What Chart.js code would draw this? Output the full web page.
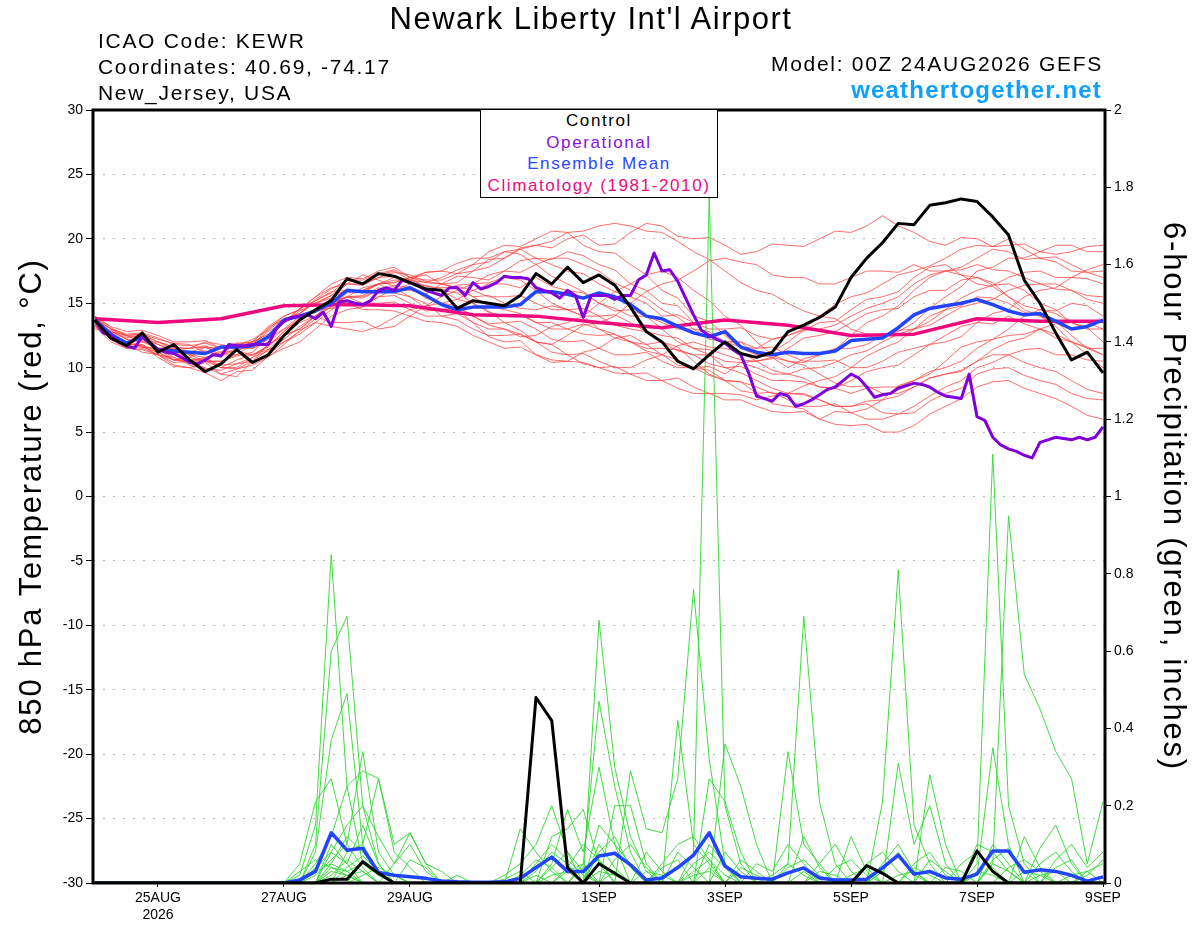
<!DOCTYPE html>
<html>
<head>
<meta charset="utf-8">
<title>Newark Liberty Int'l Airport - GEFS</title>
<script src="https://cdn.jsdelivr.net/npm/chart.js@4.4.1/dist/chart.umd.min.js"></script>
<style>
    html, body { margin: 0; padding: 0; background: #fff; }
    #wrap { position: relative; width: 1200px; height: 927px; overflow: hidden; font-family: "Liberation Sans", Arial, sans-serif; }
    #chart { position: absolute; left: 0; top: 0; }
    .t { position: absolute; white-space: nowrap; color: #000; line-height: 1; }
    .title { left: 0; width: 1182px; text-align: center; top: 3px; font-size: 31px; letter-spacing: 1.5px; }
    .info { left: 98px; font-size: 21px; letter-spacing: 1.7px; }
    .model { right: 97px; top: 53px; font-size: 21px; letter-spacing: 1.7px; }
    .site { right: 98px; top: 78px; font-size: 24px; font-weight: bold; letter-spacing: 1.2px; color: #0ea0ff; }
    #legendBox { position: absolute; left: 480px; top: 109px; width: 236px; height: 87px; border: 1.5px solid #000; background: #fff; z-index: 2; }
    #legendBox div { height: 21.5px; line-height: 21.5px; font-size: 17px; letter-spacing: 1.6px; text-align: center; white-space: nowrap; }
</style>
</head>
<body>
<div id="wrap">
    <canvas id="chart" width="1200" height="927"></canvas>
    <div class="t title">Newark Liberty Int'l Airport</div>
    <div class="t info" style="top:30px">ICAO Code: KEWR</div>
    <div class="t info" style="top:56px">Coordinates: 40.69, -74.17</div>
    <div class="t info" style="top:82px">New_Jersey, USA</div>
    <div class="t model">Model: 00Z 24AUG2026 GEFS</div>
    <div class="t site">weathertogether.net</div>
    <div id="legendBox">
        <div style="color:#000">Control</div>
        <div style="color:#8a10e0">Operational</div>
        <div style="color:#2a48ff">Ensemble Mean</div>
        <div style="color:#ee0a82">Climatology (1981-2010)</div>
    </div>
</div>
<script>
// x axis: hours after 00Z 24AUG2026
const tickHours = [24, 72, 120, 192, 240, 288, 336, 384];
const tickLabels = [['25AUG', '2026'], '27AUG', '29AUG', '1SEP', '3SEP', '5SEP', '7SEP', '9SEP'];

// 850 hPa temperature, 6-hourly (control and ensemble mean)
const controlTemp = [13.7,12.3,11.7,12.7,11.2, 11.8,10.6,9.7,10.3,11.4, 10.4,11.0,12.5,13.7,14.5, 15.2,16.9,16.5,17.3,17.1,
    16.6,16.1,16.0,14.6,15.2, 15.0,14.8,15.6,17.3,16.5, 17.8,16.6,17.2,16.4,14.7, 12.8,12.0,10.5,9.9,11.0,
    12.0,11.1,10.8,11.2,12.8, 13.3,13.9,14.7,17.0,18.5, 19.7,21.2,21.1,22.6,22.8, 23.1,22.9,21.7,20.3,16.8, 15.0,12.7,10.6,11.2,9.6];
const meanTemp = [13.7,12.6,11.9,12.4,11.4, 11.3,11.2,11.1,11.6,11.6, 11.7,12.4,13.7,14.0,14.4, 15.0,16.0,15.9,15.9,15.9,
    16.2,15.6,14.9,14.5,14.7, 14.7,14.7,14.9,15.9,15.9, 15.7,15.4,15.8,15.5,14.9, 14.0,13.8,13.2,12.7,12.4,
    12.8,11.6,11.2,11.0,11.2, 11.1,11.1,11.3,12.1,12.2, 12.3,13.1,14.1,14.6,14.8, 15.0,15.3,14.9,14.4,14.1, 14.2,13.6,13.0,13.2,13.7];

// operational run, 3-hourly
const operTemp = [13.7,12.7,12.5,12.0,11.7, 11.5,12.4,11.9,11.4,11.2, 11.1,10.8,10.4,10.3,10.6, 11.0,10.9,11.8,11.7,11.7,
    11.8,11.8,11.8,13.0,13.6, 13.9,14.0,14.1,13.8,14.3, 13.2,15.1,15.2,15.0,14.9, 15.2,16.0,16.2,16.0,16.8,
    16.6,16.4,16.0,15.8,15.6, 16.2,16.2,15.6,16.6,16.1, 16.3,16.6,17.1,17.0,17.0, 16.9,16.2,16.0,15.8,15.4,
    16.0,15.6,13.9,15.6,15.6, 15.6,15.3,15.6,15.6,16.8, 17.2,18.9,17.5,17.6,16.7, 15.4,14.1,12.9,12.5,12.2,
    11.9,11.4,11.0,9.6,7.8, 7.6,7.4,8.0,7.8,7.0, 7.2,7.5,7.9,8.3,8.5, 9.0,9.5,9.2,8.5,7.7,
    7.9,8.0,8.4,8.6,8.8, 8.7,8.5,8.1,7.8,7.7, 7.6,9.5,6.2,5.9,4.6, 4.0,3.7,3.5,3.2,3.0,
    4.2,4.4,4.6,4.5,4.4, 4.6,4.4,4.6,5.4];

// climatology, daily
const climoTemp = [13.8,13.5,13.8,14.8,14.9,14.8,14.1,14.0,13.5,13.1,13.7,13.3,12.5,12.6,13.8,13.6,13.6];

// ensemble members, 6-hourly
const memberTemps = [
    [13.5,12.4,12.0,12.3,11.5,10.6,10.8,11.6,11.0,11.9,11.5,12.2,13.5,14.6,15.0,15.4,16.5,17.2,16.8,16.3,17.0,17.2,16.5,16.6,17.5,18.4,18.5,19.3,19.5,19.3,20.0,20.3,19.5,19.6,20.5,21.2,21.0,20.2,20.0,20.1,19.5,18.8,19.0,19.6,19.5,19.4,20.0,20.6,20.5,21.0,21.8,21.0,20.5,19.8,19.5,20.1,20.0,19.4,19.5,19.6,19.0,18.8,19.0,19.4,19.5],
    [13.8,13.0,12.5,12.6,12.0,11.4,11.5,12.0,11.8,11.5,12.0,13.1,13.8,14.2,15.2,15.9,16.0,15.8,16.5,17.0,16.8,17.4,17.5,17.3,18.0,19.0,19.5,19.4,20.0,20.6,20.5,19.5,19.0,18.9,18.0,17.2,16.0,15.4,14.0,13.6,12.5,11.5,11.0,10.8,10.0,10.7,11.0,11.4,12.5,13.5,14.0,14.8,16.0,17.0,17.5,17.8,18.5,19.2,19.0,18.4,18.5,18.6,18.0,17.4,17.5],
    [13.2,12.0,11.5,11.8,10.8,10.1,10.0,10.4,9.5,9.3,10.5,11.8,12.5,13.0,14.0,15.1,15.5,15.4,16.0,16.2,15.5,14.6,14.5,14.5,13.5,12.4,12.0,12.1,11.0,10.4,10.5,11.2,11.5,12.3,12.5,11.8,12.0,11.6,10.5,9.5,9.0,8.9,8.0,7.2,7.0,6.8,6.0,6.6,6.5,6.8,7.5,8.6,9.0,9.5,10.5,11.6,12.0,12.2,13.0,14.0,14.5,14.4,15.0,14.8,14.0],
    [14.0,13.2,12.8,12.9,12.5,12.0,12.0,12.1,11.5,11.9,12.0,13.2,14.0,14.5,15.5,16.5,17.0,16.9,17.5,17.8,17.0,16.2,16.0,15.8,15.0,14.3,14.0,14.1,13.5,13.0,13.0,13.4,13.0,12.3,12.0,11.8,11.0,10.2,10.0,10.1,9.5,10.4,10.5,10.7,11.5,12.3,12.5,12.8,13.5,14.2,14.5,14.6,15.5,16.0,16.0,16.8,17.0,16.4,16.5,16.0,15.0,14.5,13.5,13.1,12.0],
    [13.5,12.2,11.8,11.7,11.0,10.2,10.0,9.6,9.0,9.7,9.8,10.9,11.5,12.0,13.0,14.0,14.5,14.7,15.5,16.1,16.0,15.7,16.5,17.1,17.0,16.8,17.5,18.3,18.5,18.4,19.0,18.7,18.0,17.6,16.5,16.0,15.0,14.8,13.5,12.4,12.0,12.0,11.0,11.2,12.0,12.9,13.5,13.6,14.5,15.3,15.5,15.9,17.0,17.8,18.0,17.2,17.0,16.6,15.5,14.5,14.0,13.6,12.5,11.5,11.0],
    [13.0,12.9,12.2,11.6,11.5,11.6,11.0,10.5,10.5,11.0,11.0,11.4,12.5,13.5,14.0,13.5,13.5,13.6,13.0,13.2,14.0,14.8,15.0,15.3,16.0,16.5,16.5,16.2,17.0,16.3,16.0,15.8,15.0,14.4,14.5,14.0,13.0,12.0,11.5,11.0,10.0,10.1,9.5,9.0,9.0,8.9,8.5,8.4,9.0,9.7,10.0,10.2,11.0,11.8,12.0,12.4,13.5,14.2,14.5,15.5,16.0,16.2,17.0,17.6,18.0],
    [13.6,12.6,12.0,12.2,11.8,11.4,11.5,11.6,11.0,11.5,11.5,12.0,13.0,14.0,14.5,15.4,16.0,16.0,16.5,15.8,15.5,15.0,14.0,13.7,13.0,12.5,12.5,12.6,12.0,11.8,12.5,13.3,13.5,14.0,15.0,15.9,16.5,16.8,17.5,18.3,18.5,18.2,18.0,17.2,17.0,17.0,16.5,16.5,17.0,17.5,17.5,17.4,18.0,17.5,17.5,17.2,16.5,16.3,15.5,14.8,14.5,14.2,13.5,13.5,13.0],
    [13.4,12.2,11.5,11.4,11.0,10.4,10.5,10.6,10.0,9.9,10.5,11.4,12.0,12.6,13.5,14.5,15.0,14.8,15.5,15.6,15.0,14.4,14.5,14.7,14.0,13.4,13.5,13.6,13.0,12.2,12.0,12.1,11.5,11.0,11.0,11.2,10.5,10.0,10.0,9.8,9.0,8.2,8.0,8.1,7.5,7.0,7.0,7.2,6.5,6.0,6.0,6.4,6.5,7.4,8.0,8.4,9.5,9.9,10.0,9.4,9.0,8.7,8.0,7.6,7.5],
    [13.8,12.8,12.3,12.5,11.8,11.3,11.2,11.6,11.5,11.5,12.0,12.6,13.5,14.4,15.0,15.6,16.5,16.4,17.0,17.1,16.5,16.0,16.0,16.4,16.5,17.2,17.5,17.4,18.0,18.5,18.5,18.0,17.5,16.6,16.0,15.4,14.5,13.9,13.0,12.8,12.0,11.6,11.5,11.6,11.0,10.5,10.5,10.6,10.0,10.0,10.5,11.2,11.5,11.8,12.5,13.2,13.5,13.4,14.0,13.4,13.0,12.6,12.0,11.5,11.5],
    [13.5,12.8,12.5,12.0,12.0,11.6,11.0,11.3,11.0,11.0,11.8,13.0,14.0,14.5,15.5,16.2,16.5,16.5,17.0,17.4,17.2,16.7,16.5,16.2,15.5,15.6,15.0,14.6,14.5,14.8,14.5,14.0,14.0,14.1,13.5,12.8,12.5,12.3,11.5,11.4,11.0,10.6,10.5,10.8,10.5,10.4,11.0,11.5,11.5,11.8,12.5,12.8,13.5,14.6,15.5,16.3,17.5,17.8,18.5,18.5,19.0,19.5,19.5,19.0,19.0],
    [13.3,12.3,11.8,11.8,11.2,10.6,10.5,10.8,10.0,10.0,10.8,11.8,12.5,13.0,14.0,14.9,15.5,15.5,16.0,16.4,16.2,15.4,15.0,14.8,14.0,13.3,13.0,12.4,12.5,13.2,13.5,14.0,15.0,15.9,16.5,17.2,17.5,17.0,16.0,15.2,14.0,13.3,12.0,11.0,10.5,10.2,9.5,8.8,8.5,8.6,8.0,8.0,8.5,9.2,9.5,9.7,10.5,11.0,11.0,10.4,10.0,9.7,9.0,8.3,8.0],
    [14.0,13.1,12.5,12.6,12.2,11.9,11.8,11.2,11.0,11.3,11.0,11.6,12.8,13.8,14.5,14.8,15.5,15.0,15.0,15.1,14.5,14.0,14.0,14.2,13.5,13.0,13.0,12.6,12.0,11.8,11.0,10.3,10.0,10.1,9.5,9.0,9.0,9.2,8.5,8.0,8.0,7.9,7.5,7.8,8.0,8.6,9.0,9.3,10.0,10.9,11.5,12.0,13.0,14.0,14.5,14.8,15.5,15.4,15.0,14.3,14.0,13.2,12.0,11.0,10.0],
    [13.6,12.7,12.0,11.6,11.5,11.5,11.0,10.8,11.2,11.8,12.0,12.4,13.5,14.6,15.2,15.8,16.8,16.6,17.2,17.5,16.8,16.6,17.0,17.6,18.0,18.2,19.0,19.2,18.5,18.0,17.5,17.3,16.5,15.9,15.5,15.0,14.0,14.1,13.5,13.0,13.0,13.1,12.5,12.2,12.5,12.9,13.0,13.3,14.0,14.6,15.0,15.5,16.5,17.2,17.5,17.6,18.0,17.6,17.5,17.0,16.5,16.5,16.0,15.3,15.0],
    [13.2,12.3,11.8,11.2,11.0,10.8,10.2,9.9,9.8,10.3,10.5,11.0,12.0,12.8,13.8,14.8,15.5,15.6,16.2,16.0,16.5,16.4,16.0,15.3,15.0,14.4,13.5,12.9,12.0,11.2,11.0,11.1,10.5,10.0,10.0,10.6,11.0,11.7,12.0,11.6,11.5,11.2,10.5,9.8,9.5,9.2,8.5,8.4,8.0,8.4,8.5,8.5,9.0,9.7,10.0,10.5,11.5,12.2,12.5,12.6,13.0,12.3,12.0,11.6,11.0],
    [13.9,13.0,12.6,12.7,12.3,11.8,11.7,11.9,11.5,11.7,12.2,12.9,13.8,14.2,15.0,15.6,16.0,15.9,16.5,16.8,16.8,16.3,16.2,16.3,16.0,15.5,15.5,15.6,15.0,14.5,14.5,14.6,14.0,13.3,13.0,12.8,12.0,11.3,11.0,11.0,10.5,10.4,10.0,9.5,9.5,9.9,10.0,10.4,11.0,11.3,12.0,12.6,13.0,13.3,14.0,14.7,15.0,15.3,16.0,16.4,16.5,16.1,16.0,15.6,15.5],
    [13.4,12.4,11.6,11.5,11.0,10.6,10.6,10.7,10.2,10.3,10.8,11.3,12.2,13.2,14.0,14.7,15.8,16.0,16.5,16.6,17.0,17.4,17.5,18.1,18.5,18.5,19.0,18.8,18.0,17.1,16.5,15.9,15.0,14.6,14.0,14.0,13.5,13.0,13.0,12.2,12.0,12.0,11.5,12.2,12.5,13.0,14.0,14.9,15.5,15.8,16.5,17.2,17.5,17.9,18.5,19.2,19.5,19.4,20.0,19.2,18.5,18.2,17.5,17.4,17.0],
    [13.7,12.8,12.2,12.0,11.5,11.2,10.8,10.5,10.5,10.9,11.2,12.3,13.0,13.6,14.5,14.6,15.0,14.5,14.5,14.4,14.0,13.6,13.5,13.2,12.5,12.0,11.5,11.6,11.0,10.6,10.5,10.4,10.0,9.6,9.5,9.6,9.0,8.4,8.0,8.0,7.5,7.5,7.0,6.6,6.5,6.6,6.0,5.6,5.5,5.6,5.0,5.0,5.5,6.4,7.0,7.6,8.5,8.9,9.0,8.4,8.0,7.6,7.0,6.3,6.0],
    [13.5,12.5,12.0,12.1,11.5,10.8,10.5,10.5,10.0,10.6,11.0,11.7,12.8,13.9,14.5,15.0,15.5,16.2,16.5,16.6,17.0,16.6,16.5,16.2,15.5,14.8,14.5,14.2,13.5,13.5,13.0,12.6,12.5,12.6,12.0,11.5,11.5,11.4,11.0,10.3,10.0,9.6,9.0,8.4,8.0,8.0,7.5,7.0,7.0,7.4,7.5,7.8,8.5,9.2,9.5,9.8,10.5,11.4,12.0,12.3,13.0,13.4,13.5,13.0,13.0],
    [13.8,13.0,12.4,12.5,12.0,11.6,11.5,11.7,11.2,11.3,11.8,12.8,13.5,14.2,15.3,16.1,16.8,16.8,17.3,17.6,17.0,16.8,16.8,17.3,17.5,17.8,18.5,19.2,19.5,19.8,20.5,20.6,21.0,21.2,21.0,20.6,20.5,19.8,19.0,18.4,17.5,16.6,16.0,15.7,15.0,14.4,14.0,13.8,13.0,12.6,12.5,12.9,13.0,13.6,14.5,15.4,16.0,16.4,17.0,17.4,17.5,17.0,17.0,16.9,16.5],
    [13.3,12.2,11.7,11.6,11.2,10.6,10.4,10.0,9.5,9.9,10.2,10.8,11.8,12.9,13.5,13.2,13.0,12.8,13.2,13.9,14.5,14.8,15.5,16.0,16.5,16.6,17.0,16.8,16.0,15.0,14.5,14.0,13.0,12.6,12.0,11.3,11.0,10.6,10.0,9.4,9.0,8.9,8.5,8.0,8.0,7.9,7.5,7.0,7.0,7.2,6.5,6.4,7.0,7.8,8.5,9.0,10.0,10.4,11.0,11.4,11.5,11.0,11.0,10.6,10.5]
];

// 6-hour precipitation (inches), 6-hourly
const controlPrecip = [0,0,0,0,0, 0,0,0,0,0, 0,0,0,0,0, .01,.01,.055,.025,0, 0,0,0,0,0, 0,0,0,.48,.42, .04,0,.05,.025,0,
    0,0,0,0,0, 0,0,0,0,0, 0,0,0,0,.045, .025,0,0,0,0, 0,.083,.03,0,0, 0,0,0,0,0];
const meanPrecip = [0,0,0,0,0, 0,0,0,0,0, 0,0,0,.008,.03, .13,.085,.09,.027,.02, .016,.012,.005,.003,.002, .002,.003,.012,.04,.067,
    .03,.03,.07,.077,.047, .008,.013,.04,.072,.13, .044,.016,.012,.01,.026, .039,.013,.008,.008,.01,
    .039,.072,.023,.03,.013, .01,.023,.083,.083,.028, .034,.03,.02,.005,.016];
const memberPrecips = [
    [0,0,0,0,0, 0,0,0,0,0, 0,0,0,.02,.15, .85,.25,.05,.02,0, 0,0,0,0,0, 0,0,0,.03,.08, .05,0,.10,.04,0, 0,0,0,.08,1.78, .20,.05,0,0,0, 0,0,0,0,0, .03,.08,.02,0,0, 0,0,.10,.05,0, 0,0,0,0,0],
    [0,0,0,0,0, 0,0,0,0,0, 0,0,0,0,.10, .60,.69,.20,.05,0, 0,0,0,0,0, 0,.02,.05,.10,.20, .08,0,.68,.30,.12, .03,0,0,0,0, 0,0,0,0,.05, .69,.21,.05,0,0, 0,0,0,0,0, 0,.05,1.11,.20,.05, 0,0,0,0,0],
    [0,0,0,0,0, 0,0,0,0,0, 0,0,0,0,.08, .37,.49,.10,.02,0, 0,0,0,0,0, 0,0,0,0,0, 0,.05,.47,.25,.08, 0,0,.42,.10,.05, 0,0,0,0,0, 0,0,0,0,0, .21,.81,.15,.05,0, 0,0,.05,.95,.54, .45,.34,.27,.05,.21],
    [0,0,0,0,0, 0,0,0,0,0, 0,0,0,.05,.21, .27,.10,.34,.08,.02, 0,0,0,0,0, 0,0,0,0,.05, .19,.08,.30,.10,0, 0,0,0,0,0, .36,.25,.10,0,0, 0,0,0,0,0, 0,0,0,.28,.10, 0,0,0,0,0, .09,.15,.05,0,0],
    [0,0,0,0,0, 0,0,0,0,0, 0,0,0,0,.05, .12,.25,.29,.27,.10, .13,.05,.03,0,0, 0,0,0,0,0, 0,0,0,0,.29, .14,.13,.27,.76,.32, .05,0,0,0,0, 0,0,0,0,0, 0,0,0,0,0, 0,.02,.35,.10,0, 0,0,0,0,0],
    [0,0,0,0,0, 0,0,0,0,0, 0,0,0,0,0, .08,.15,.20,.12,.05, .10,.03,0,0,0, 0,0,.14,.08,.03, 0,0,0,.20,.20, .05,0,0,0,0, 0,0,0,0,.34, .10,.05,0,0,0, 0,.31,.10,.20,.05, 0,0,0,0,0, 0,0,0,0,0],
    [0,0,0,0,0, 0,0,0,0,0, 0,0,0,0,.03, .05,.12,.08,.03,0, 0,0,0,0,0, 0,0,0,0,.12, .14,.19,.05,0,0, 0,0,0,0,.27, .21,.08,0,0,0, 0,0,0,.12,.03, 0,0,0,0,0, 0,.10,.08,.03,0, 0,0,0,0,0],
    [0,0,0,0,0, 0,0,0,0,0, 0,0,0,0,0, .10,.05,.15,.05,0, 0,0,0,0,0, 0,0,0,.05,.10, .06,.02,0,0,0, 0,.05,.10,.12,.06, 0,0,0,0,0, .12,.04,0,0,0, 0,0,0,0,0, 0,0,0,0,0, 0,.06,.10,.04,.08],
    [0,0,0,0,0, 0,0,0,0,0, 0,0,0,0,0, 0,.08,.10,.27,.08, .04,0,0,0,0, 0,0,0,0,0, 0,0,.15,.10,.05, 0,0,0,0,0, 0,0,.05,.03,.10, .05,0,0,0,0, 0,0,.05,.08,.02, 0,0,0,0,.12, .04,0,0,0,0],
    [0,0,0,0,0, 0,0,0,0,0, 0,0,0,.03,.06, .04,.02,0,0,0, .06,.04,0,0,0, 0,0,0,0,0, .04,.10,.06,0,0, 0,0,0,.05,.08, .04,0,0,0,0, 0,0,.04,.06,.02, 0,0,0,0,0, 0,0,.06,.09,.03, 0,0,0,0,0],
    [0,0,0,0,0, 0,0,0,0,0, 0,0,0,0,0, .02,.06,.03,0,.05, .13,.05,0,0,0, 0,0,.02,.06,.04, 0,0,0,0,0, .08,.03,0,0,0, 0,.06,.03,0,0, 0,0,0,0,0, .05,.10,.03,0,0, 0,0,0,0,0, .05,.08,.03,0,0],
    [0,0,0,0,0, 0,0,0,0,0, 0,0,0,0,.02, .06,.10,.04,0,0, 0,0,0,0,0, 0,0,0,0,0, 0,0,.08,.12,.04, 0,0,0,0,.10, .05,0,0,0,0, 0,.05,.10,.03,0, 0,0,0,0,0, .05,.08,.04,0,0, 0,0,0,.02,.06],
    [0,0,0,0,0, 0,0,0,0,0, 0,0,0,0,0, 0,0,.06,.03,.02, 0,0,0,.02,0, 0,0,0,0,.04, .08,.03,0,0,0, 0,0,.08,.04,0, 0,0,0,0,.04, .06,.02,0,0,0, 0,0,0,.06,.03, 0,0,0,.04,.06, .03,0,0,0,0],
    [0,0,0,0,0, 0,0,0,0,0, 0,0,0,0,0, .04,.03,.05,.02,0, 0,0,0,0,0, 0,.01,.03,0,0, 0,0,0,.06,.10, .04,0,0,0,0, .08,.03,0,0,0, 0,0,0,0,.05, .08,.03,0,0,0, 0,0,0,0,0, 0,.04,.06,0,0],
    [0,0,0,0,0, 0,0,0,0,0, 0,0,0,0,.04, .08,.05,0,0,0, 0,0,0,0,0, 0,0,0,0,0, 0,.04,.06,.02,0, 0,.04,.06,0,0, 0,0,0,.02,.05, .02,0,0,0,0, 0,0,0,0,.04, .03,0,0,0,0, 0,0,0,.03,.05],
    [0,0,0,0,0, 0,0,0,0,0, 0,0,0,0,0, 0,.04,.07,.03,0, 0,0,0,0,0, 0,0,0,0,0, .03,.05,0,0,0, 0,0,0,.03,.06, .02,0,0,0,0, 0,.03,.02,0,0, 0,0,.04,.02,0, 0,0,.05,.03,0, 0,0,0,0,0],
    [0,0,0,0,0, 0,0,0,0,0, 0,0,0,0,0, .03,.02,0,0,0, 0,0,0,0,0, 0,0,0,0,.02, .03,0,0,0,0, 0,0,0,0,0, 0,.04,.02,0,0, 0,0,0,0,0, .03,0,0,0,0, 0,0,0,0,0, .02,.03,0,0,0],
    [0,0,0,0,0, 0,0,0,0,0, 0,0,0,0,0, 0,0,.02,.04,.02, 0,0,0,0,0, 0,0,0,0,0, 0,0,.03,.02,0, 0,0,0,0,.04, 0,0,0,0,0, .03,0,0,0,0, 0,0,0,0,0, 0,.03,.02,0,0, 0,0,0,0,0],
    [0,0,0,0,0, 0,0,0,0,0, 0,0,0,0,0, .05,.03,0,0,0, 0,0,0,0,0, 0,0,0,.02,0, 0,0,0,0,0, .03,.02,0,0,0, 0,0,0,0,0, 0,0,0,.02,.04, 0,0,0,0,0, 0,0,0,0,.03, .02,0,0,0,0],
    [0,0,0,0,0, 0,0,0,0,0, 0,0,0,0,0, 0,.02,.03,0,0, 0,0,0,0,0, 0,0,0,0,0, 0,0,0,.03,0, 0,0,0,.02,.03, 0,0,0,0,0, 0,0,0,0,0, 0,.02,.03,0,0, 0,0,0,0,0, 0,0,.02,.03,0]
];

Chart.defaults.font.family = '"Liberation Sans", Arial, sans-serif';
Chart.defaults.color = '#000';

function points(values, stepHours) {
    return values.map((v, i) => ({ x: i * stepHours, y: v }));
}

const datasets = [];
memberTemps.forEach(vals => datasets.push({
    data: points(vals, 6), yAxisID: 'y', borderColor: 'rgba(255,60,60,0.75)', borderWidth: 1, order: 60
}));
memberPrecips.forEach(vals => datasets.push({
    data: points(vals, 6), yAxisID: 'y2', borderColor: 'rgba(45,215,45,0.9)', borderWidth: 1, order: 50
}));
datasets.push({ label: 'Climatology', data: points(climoTemp, 24), yAxisID: 'y', borderColor: '#f0087f', borderWidth: 3.5, order: 40 });
datasets.push({ label: 'Ensemble Mean precip', data: points(meanPrecip, 6), yAxisID: 'y2', borderColor: '#2244ff', borderWidth: 3.5, order: 31 });
datasets.push({ label: 'Ensemble Mean', data: points(meanTemp, 6), yAxisID: 'y', borderColor: '#2244ff', borderWidth: 3.5, order: 30 });
datasets.push({ label: 'Operational', data: points(operTemp, 3), yAxisID: 'y', borderColor: '#8000dc', borderWidth: 3, order: 20 });
datasets.push({ label: 'Control precip', data: points(controlPrecip, 6), yAxisID: 'y2', borderColor: '#000', borderWidth: 3, order: 11 });
datasets.push({ label: 'Control', data: points(controlTemp, 6), yAxisID: 'y', borderColor: '#000', borderWidth: 3, order: 10 });

// axis titles are drawn with the grid layer (before the datasets): space their letters out,
// then go back to normal spacing for the lines and the tick labels
const spacing = {
    id: 'spacing',
    beforeDraw(chart) { chart.ctx.letterSpacing = '1.8px'; },
    beforeDatasetsDraw(chart) { chart.ctx.letterSpacing = '0px'; }
};

// thick frame round the plot area
const frame = {
    id: 'frame',
    afterDraw(chart) {
        const { ctx, chartArea: a } = chart;
        ctx.save();
        ctx.lineWidth = 3;
        ctx.strokeStyle = '#000';
        ctx.strokeRect(a.left, a.top, a.right - a.left, a.bottom - a.top);
        ctx.restore();
    }
};

new Chart(document.getElementById('chart').getContext('2d'), {
    type: 'line',
    data: { datasets: datasets },
    plugins: [spacing, frame],
    options: {
        responsive: false,
        animation: false,
        elements: { point: { radius: 0 }, line: { tension: 0, borderJoinStyle: 'round' } },
        layout: { padding: { top: 110, left: 0, right: 0, bottom: 0 } },
        plugins: { legend: { display: false }, tooltip: { enabled: false } },
        scales: {
            x: {
                type: 'linear', min: -0.76, max: 384.76,
                afterBuildTicks: s => { s.ticks = tickHours.map(v => ({ value: v })); },
                afterFit: s => { s.height = 44; },
                grid: { drawOnChartArea: false, tickLength: 4, tickColor: '#000' },
                border: { display: false },
                ticks: { z: 1, autoSkip: false, maxRotation: 0, padding: 3, font: { size: 14 }, callback: (v, i) => tickLabels[i] }
            },
            y: {
                position: 'left', min: -30, max: 30,
                afterFit: s => { s.width = 93; },
                ticks: { z: 1, stepSize: 5, font: { size: 14 }, padding: 3 },
                grid: { color: '#b4b4b4', lineWidth: 1, tickColor: '#000', tickLength: 7, tickBorderDash: [] },
                border: { display: false, dash: [2, 8] },
                title: { display: true, text: '850 hPa Temperature (red, °C)', font: { size: 31 }, padding: { top: 14, bottom: 0 } }
            },
            y2: {
                position: 'right', min: 0, max: 2,
                afterFit: s => { s.width = 95; },
                ticks: { z: 1, stepSize: 0.2, font: { size: 14 }, padding: 3, callback: v => String(Math.round(v * 10) / 10) },
                grid: { drawOnChartArea: false, tickColor: '#000', tickLength: 6 },
                border: { display: false },
                title: { display: true, text: '6-hour Precipitation (green, inches)', font: { size: 31 }, padding: { top: 9, bottom: 0 } }
            }
        }
    }
});
</script>
</body>
</html>
